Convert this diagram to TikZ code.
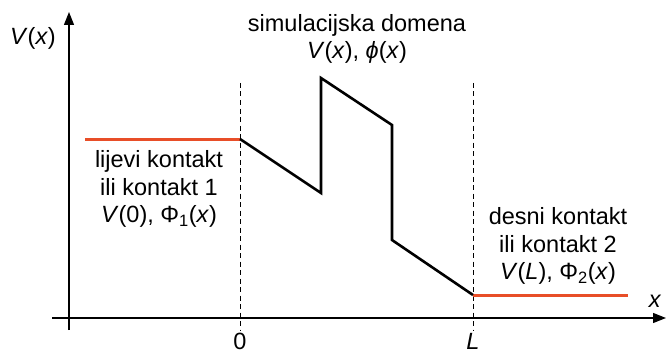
\documentclass[tikz,border=0pt]{standalone}
\usepackage{fontspec}
\setmainfont{Liberation Sans}
\usetikzlibrary{arrows.meta,positioning}
\definecolor{kontaktred}{RGB}{232,78,40}

\begin{document}
\begin{tikzpicture}[x=1pt, y=-1pt,
    lbl/.style={font=\fontsize{23.5}{27.5}\selectfont, align=center, inner sep=0pt},
    axis/.style={line width=1.3pt, -{Triangle[length=13pt,width=10pt]}},
    guide/.style={line width=0.9pt, dash pattern=on 5pt off 3.5pt},
    curve/.style={line width=2.6pt, line join=miter},
    contact/.style={kontaktred, line width=3pt},
]
\useasboundingbox (0,0) rectangle (667,353);

% Axes
\coordinate (xs) at (52,318);
\coordinate (xe) at (666,318);
\coordinate (ys) at (69,330);
\coordinate (ye) at (69,12);
\draw[axis] (xs) -- (xe);
\draw[axis] (ys) -- (ye);

% Domain borders x=0 and x=L
\coordinate (d0t) at (240,83);
\coordinate (d0b) at (240,330);
\coordinate (dLt) at (473,83);
\coordinate (dLb) at (473,330);
\draw[guide] (d0t) -- (d0b);
\draw[guide] (dLt) -- (dLb);

% Potential inside the domain
\coordinate (p0) at (240,139);
\coordinate (p1) at (321,193);
\coordinate (p2) at (321,78);
\coordinate (p3) at (392,125);
\coordinate (p4) at (392,240);
\coordinate (p5) at (473,295);

% Contacts
\coordinate (lc) at (85,139);
\coordinate (rc) at (628,295);
\draw[contact] (lc) -- (p0);
\draw[contact] (p5) -- (rc);

\draw[curve] (p0) -- (p1) -- (p2) -- (p3) -- (p4) -- (p5);

% Labels
\node[lbl] (vlab) at (33,38) {\textit{V}(\textit{x})};
\node[lbl] (xlab) at (655,301) {\textit{x}};
\node[lbl] (zero) at (240,341) {0};
\node[lbl] (llab) at (473,341) {\textit{L}};

\node[lbl] (domena) at (357,39) {simulacijska domena\\\textit{V}(\textit{x}), \textit{ϕ}(\textit{x})};
\node[lbl] (lijevi) at (159,189) {lijevi kontakt\\ili kontakt 1\\\textit{V}(0), Φ\textsubscript{1}(\textit{x})};
\node[lbl] (desni) at (558,246) {desni kontakt\\ili kontakt 2\\\textit{V}(\textit{L}), Φ\textsubscript{2}(\textit{x})};

\end{tikzpicture}
\end{document}
